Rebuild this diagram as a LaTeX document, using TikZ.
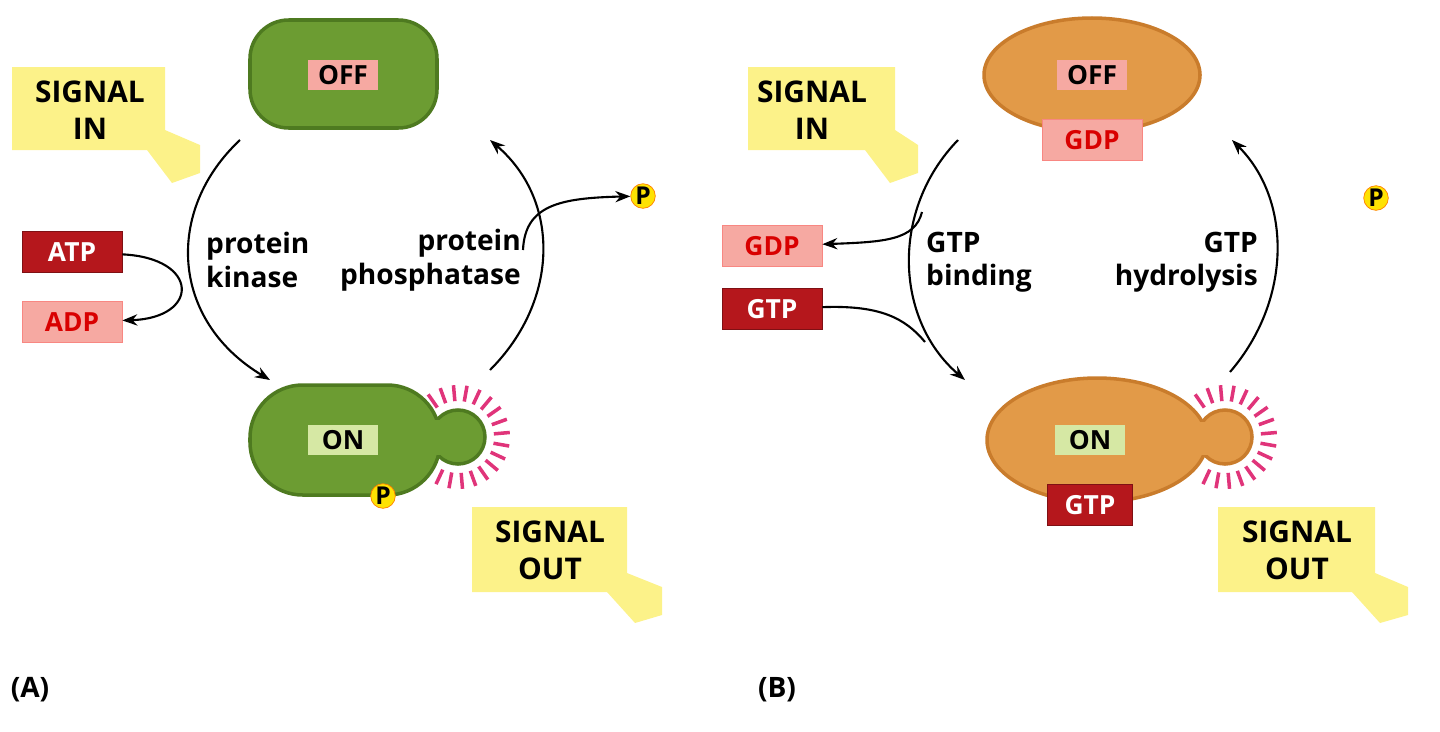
\documentclass[tikz,border=0pt]{standalone}
\usepackage{fontspec}
\setmainfont{Open Sans}
\usetikzlibrary{positioning}
\usetikzlibrary {arrows.meta}
\definecolor{leaf}{HTML}{6C9C32}
\definecolor{leafdark}{HTML}{4E7A20}
\definecolor{amber}{HTML}{E29A48}
\definecolor{amberdark}{HTML}{C97C2C}
\definecolor{note}{HTML}{FCF289}
\definecolor{rose}{HTML}{F6A9A2}
\definecolor{blood}{HTML}{B5171C}
\definecolor{lime}{HTML}{D6E8A4}
\definecolor{ray}{HTML}{E0347A}
\tikzset{tag/.style={rectangle,inner sep=0pt,minimum height=46pt*0.5, minimum width=20mm,font=\bfseries\fontsize{15}{15}\selectfont}}
\tikzset{tagdark/.style={tag,fill=blood,draw=blood!70!black,text=white}}
\tikzset{taglight/.style={tag,fill=rose,draw=rose!80!red,text=red!85!black}}
\tikzset{state/.style={rectangle,fill=rose,inner sep=3pt,minimum width=14mm,font=\bfseries\fontsize{15}{15}\selectfont}}
\tikzset{phos/.style={circle,fill=yellow!85!orange,draw=orange,inner sep=0pt,minimum size=14pt,font=\bfseries\fontsize{14}{14}\selectfont}}
\tikzset{enzyme/.style={align=left,font=\bfseries\fontsize{16}{19}\selectfont}}
\tikzset{call/.style={fill=note,draw=none}}
\tikzset{calltext/.style={align=center,font=\bfseries\fontsize{17}{21}\selectfont}}
\tikzset{flow/.style={line width=1.2pt,-{Stealth[length=3mm]}}}

\begin{document}
\begin{tikzpicture}[x=0.02cm,y=-0.02cm]
    \useasboundingbox (0,0) rectangle (1440,731);

    % panel A
    \draw[call] (12,67) -- (165,67) -- (165,130) -- (200,145) -- (200,173) -- (172,183) -- (147,150) -- (12,150) -- cycle;
    \node[calltext] (sigin) at (90,110) {SIGNAL\\IN};
    \draw[call] (472,507) -- (627,507) -- (627,573) -- (662,587) -- (662,615) -- (635,623) -- (607,592) -- (472,592) -- cycle;
    \node[calltext] (sigout) at (550,550) {SIGNAL\\OUT};

    \draw[fill=leaf,draw=leafdark,line width=2pt,rounded corners=22pt] (250,20) rectangle (437,128);
    \node[state] (offA) at (343,75) {OFF};

    \foreach \a in {-125,-110,...,125}
        \draw[ray,line width=2pt] ([shift={(\a:36)}]458,437) -- ([shift={(\a:52)}]458,437);
    \draw[fill=leaf,draw=leafdark,line width=2pt] (458,437) circle (27);
    \draw[fill=leaf,draw=leafdark,line width=2pt,rounded corners=30pt] (250,385) rectangle (440,495);
    \fill[leaf] (425,420) rectangle (445,455);
    \node[state,fill=lime] (onA) at (343,440) {ON};
    \node[phos] (pA) at (383,496) {P};

    \node[tagdark] (atp) at (72,252) {ATP};
    \node[taglight] (adp) at (72,322) {ADP};
    \node[phos] (pfreeA) at (643,196) {P};

    \coordinate (kinS) at (240,140);
    \coordinate (kinE) at (270,380);
    \coordinate (phoS) at (490,370);
    \coordinate (phoE) at (490,140);
    \draw[flow] (kinS) .. controls (165,210) and (170,320) .. (kinE);
    \draw[flow] (phoS) .. controls (560,300) and (560,200) .. (phoE);
    \draw[flow] (atp) .. controls (200,258) and (200,318) .. (adp);
    \draw[flow] (523,250) .. controls (525,205) and (560,198) .. (pfreeA);
    \node[enzyme,anchor=west] (kin) at (200,260) {protein\\kinase};
    \node[enzyme,anchor=east,align=right] (pho) at (527,260) {protein\\phosphatase};
    \node[font=\bfseries\fontsize{16}{16}\selectfont] (labA) at (30,690) {(A)};

    % panel B
    \draw[call] (748,67) -- (895,67) -- (895,130) -- (918,145) -- (918,173) -- (890,183) -- (865,150) -- (748,150) -- cycle;
    \node[calltext] (sigin2) at (812,110) {SIGNAL\\IN};
    \draw[call] (1218,507) -- (1375,507) -- (1375,573) -- (1408,587) -- (1408,615) -- (1380,623) -- (1352,592) -- (1218,592) -- cycle;
    \node[calltext] (sigout2) at (1297,550) {SIGNAL\\OUT};

    \draw[fill=amber,draw=amberdark,line width=2pt] (1092,75) ellipse (108 and 57);
    \node[state] (offB) at (1092,75) {OFF};
    \node[taglight] (gdpon) at (1092,140) {GDP};

    \foreach \a in {-125,-110,...,125}
        \draw[ray,line width=2pt] ([shift={(\a:36)}]1225,437) -- ([shift={(\a:52)}]1225,437);
    \draw[fill=amber,draw=amberdark,line width=2pt] (1225,437) circle (27);
    \draw[fill=amber,draw=amberdark,line width=2pt] (1097,440) ellipse (110 and 62);
    \fill[amber] (1195,422) rectangle (1212,455);
    \node[state,fill=lime] (onB) at (1090,440) {ON};
    \node[tagdark,minimum width=17mm] (gtpon) at (1090,505) {GTP};

    \node[taglight] (gdp) at (772,246) {GDP};
    \node[tagdark] (gtp) at (772,309) {GTP};
    \node[phos] (pfreeB) at (1376,198) {P};

    \coordinate (bindS) at (958,140);
    \coordinate (bindE) at (965,380);
    \coordinate (hydS) at (1230,372);
    \coordinate (hydE) at (1232,140);
    \draw[flow] (bindS) .. controls (890,210) and (895,320) .. (bindE);
    \draw[flow] (hydS) .. controls (1292,300) and (1292,200) .. (hydE);
    \draw[flow] (922,212) .. controls (915,240) and (885,242) .. (gdp);
    \draw[line width=1.2pt] (gtp) .. controls (880,305) and (905,318) .. (925,342);
    \node[enzyme,anchor=west] (bind) at (920,262) {GTP\\binding};
    \node[enzyme,anchor=east,align=right] (hyd) at (1264,262) {GTP\\hydrolysis};
    \node[font=\bfseries\fontsize{16}{16}\selectfont] (labB) at (777,690) {(B)};
\end{tikzpicture}
\end{document}
